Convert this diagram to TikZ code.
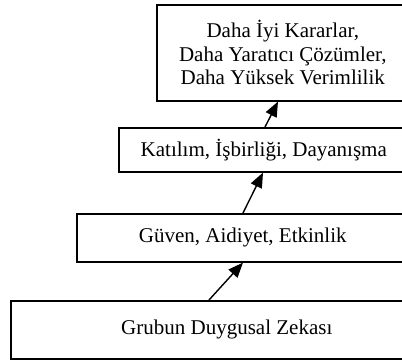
\documentclass[tikz,border=0pt]{standalone}
\usepackage{fontspec}
\setmainfont{Liberation Serif}
\usetikzlibrary{arrows.meta}

\begin{document}
\begin{tikzpicture}[x=1pt, y=-1pt,
  katman/.style={draw, line width=1.6pt, anchor=north west, align=center,
                 inner sep=0pt, font=\fontsize{21}{23.5}\selectfont},
  arrow/.style={-{Triangle[length=15pt, width=12pt]}, line width=1.4pt},
]
\useasboundingbox (0,0) rectangle (402,360);
\clip (0,0) rectangle (402,360);
\node[katman, minimum width=252pt, minimum height=96pt] (sonuc) at (156,4)
  {Daha İyi Kararlar,\\ Daha Yaratıcı Çözümler,\\ Daha Yüksek Verimlilik};
\node[katman, minimum width=290pt, minimum height=44pt] (katilim) at (118,127)
  {Katılım, İşbirliği, Dayanışma};
\node[katman, minimum width=332pt, minimum height=48pt] (guven) at (76,213)
  {Güven, Aidiyet, Etkinlik};
\node[katman, minimum width=432pt, minimum height=58pt] (zeka) at (10,300)
  {Grubun Duygusal Zekası};
\draw[arrow] ([xshift=199pt]zeka.north west) -- ([xshift=167pt]guven.south west);
\draw[arrow] ([xshift=167pt]guven.north west) -- ([xshift=145pt]katilim.south west);
\draw[arrow] ([xshift=147pt]katilim.north west) -- ([xshift=122pt]sonuc.south west);
\end{tikzpicture}
\end{document}
